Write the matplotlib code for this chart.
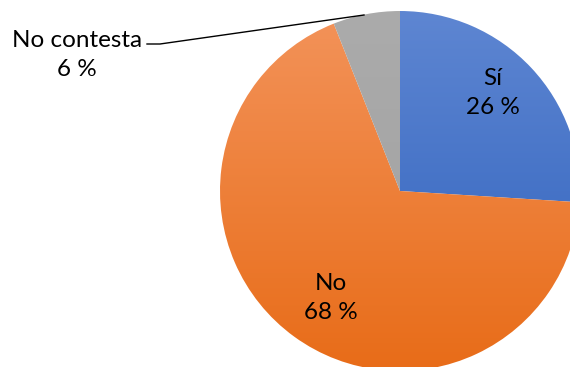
import matplotlib
matplotlib.use("Agg")
import matplotlib.pyplot as plt
import numpy as np
from matplotlib.colors import LinearSegmentedColormap

labels = ["Sí", "No", "No contesta"]
values = [26, 68, 6]
top_colors = ["#5E86D2", "#F3935A", "#ABABAB"]
bottom_colors = ["#2D60BC", "#E86C18", "#A0A0A0"]

W, H = 570, 367
fig = plt.figure(figsize=(W / 100, H / 100), dpi=100)
ax = fig.add_axes([0, 0, 1, 1])

cx, cy, r = 400, H - 191, 180
wedges, _ = ax.pie(values, startangle=90, counterclock=False,
                   center=(cx, cy), radius=r, frame=True,
                   wedgeprops=dict(linewidth=0))
ax.set_xlim(0, W)
ax.set_ylim(0, H)
ax.set_aspect("equal")
ax.axis("off")

grad = np.linspace(1, 0, 256).reshape(-1, 1)
for w, tc, bc in zip(wedges, top_colors, bottom_colors):
    w.set_facecolor("none")
    cmap = LinearSegmentedColormap.from_list("g", [bc, tc])
    im = ax.imshow(grad, cmap=cmap, aspect="auto",
                   extent=(cx - r, cx + r, cy - r, cy + r), origin="upper",
                   zorder=1)
    im.set_clip_path(w)

font = dict(family=["Lato", "DejaVu Sans"], fontsize=17.5, color="black",
            ha="center", va="center", linespacing=1.45)
ax.text(493, H - 93, f"{labels[0]}\n{values[0]} %", **font, zorder=5)
ax.text(331, H - 298, f"{labels[1]}\n{values[1]} %", **font, zorder=5)
ax.text(77, H - 55, f"{labels[2]}\n{values[2]} %", **font, zorder=5)

ax.plot([147, 160, 364], [H - 44, H - 44, H - 15], color="black", lw=1.0,
        zorder=5)

ax.set_xlim(0, W)
ax.set_ylim(0, H)
fig.savefig("out.png", dpi=100)
